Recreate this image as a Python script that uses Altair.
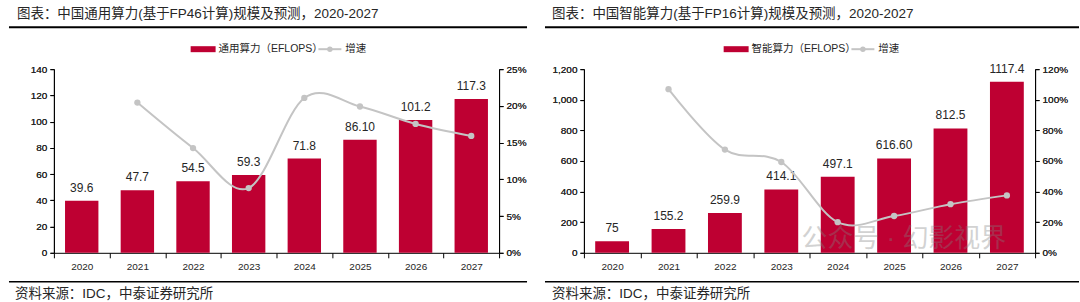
import altair as alt
import pandas as pd

# ---- data -------------------------------------------------------------
YEARS = ["2020", "2021", "2022", "2023", "2024", "2025", "2026", "2027"]

GENERAL_EFLOPS = [39.6, 47.7, 54.5, 59.3, 71.8, 86.10, 101.2, 117.3]
GENERAL_LABELS = ["39.6", "47.7", "54.5", "59.3", "71.8", "86.10", "101.2", "117.3"]
GENERAL_GROWTH = [None, 0.2045, 0.1426, 0.0881, 0.2108, 0.1992, 0.1754, 0.1591]

AI_EFLOPS = [75, 155.2, 259.9, 414.1, 497.1, 616.60, 812.5, 1117.4]
AI_LABELS = ["75", "155.2", "259.9", "414.1", "497.1", "616.60", "812.5", "1117.4"]
AI_GROWTH = [None, 1.0693, 0.6746, 0.5933, 0.2004, 0.2404, 0.3177, 0.3752]

GENERAL_TICKS = [0, 20, 40, 60, 80, 100, 120, 140]
GENERAL_PCT_TICKS = [0, 0.05, 0.10, 0.15, 0.20, 0.25]
AI_TICKS = [0, 200, 400, 600, 800, 1000, 1200]
AI_PCT_TICKS = [0, 0.2, 0.4, 0.6, 0.8, 1.0, 1.2]

# ---- style ------------------------------------------------------------
RED = "#BE0032"
GREY = "#C4C4C4"
INK = "#262626"
FONT = "Liberation Sans, Noto Sans CJK SC, sans-serif"
PLOT_H = 184


def one():
    return alt.Chart(alt.Data(values=[{}]))


def panel(values, labels, growth, left_ticks, left_fmt, pct_ticks, width,
          title, series_name, legend_x, title_x, source_x, rule_left, rule_right,
          watermark=False):
    df = pd.DataFrame({"year": YEARS, "value": values, "label": labels, "growth": growth})

    x = alt.X(
        "year:N", title=None, sort=YEARS,
        scale=alt.Scale(paddingInner=0, paddingOuter=0),
        axis=alt.Axis(labelAngle=0, tickBand="extent", tickSize=5, labelPadding=4,
                      domainColor="black", tickColor="black", labelFontSize=10),
    )
    y_left = alt.Y(
        "value:Q", title=None,
        scale=alt.Scale(domain=[left_ticks[0], left_ticks[-1]], nice=False),
        axis=alt.Axis(orient="left", values=left_ticks, format=left_fmt, grid=False,
                      tickSize=4, labelPadding=3, domainColor="black", tickColor="black"),
    )
    y_right = alt.Y(
        "growth:Q", title=None,
        scale=alt.Scale(domain=[pct_ticks[0], pct_ticks[-1]], nice=False),
        axis=alt.Axis(orient="right", values=pct_ticks, format=".0%", grid=False,
                      tickSize=4, labelPadding=3, domainColor="black", tickColor="black"),
    )

    bars = alt.Chart(df).mark_bar(color=RED, width=alt.RelativeBandSize(0.6)).encode(x=x, y=y_left)
    values_text = alt.Chart(df).mark_text(
        baseline="bottom", dy=-6, font=FONT, fontSize=12, color=INK
    ).encode(x=x, y=y_left, text="label:N")

    growth_df = df.dropna(subset=["growth"])
    line = alt.Chart(growth_df).mark_line(
        color=GREY, strokeWidth=2, interpolate="cardinal"
    ).encode(x=x, y=y_right)
    dots = alt.Chart(growth_df).mark_point(
        filled=True, color=GREY, size=40, opacity=1
    ).encode(x=x, y=y_right)

    # heading, separators, legend and source line
    head = one().mark_text(
        align="left", baseline="top", font=FONT, fontSize=13.5, color=INK
    ).encode(x=alt.value(title_x), y=alt.value(-62), text=alt.value(title))
    top_rule = one().mark_rule(color="black", strokeWidth=2).encode(
        x=alt.value(rule_left), x2=alt.value(width + rule_right), y=alt.value(-42))
    bottom_rule = one().mark_rule(color="black", strokeWidth=1.5).encode(
        x=alt.value(rule_left), x2=alt.value(width + rule_right), y=alt.value(213))
    source = one().mark_text(
        align="left", baseline="middle", font=FONT, fontSize=13.5, color=INK
    ).encode(x=alt.value(source_x), y=alt.value(225), text=alt.value("资料来源：IDC，中泰证券研究所"))

    ly = -20
    leg_rect = one().mark_rect(color=RED).encode(
        x=alt.value(legend_x), x2=alt.value(legend_x + 25),
        y=alt.value(ly - 3), y2=alt.value(ly + 3))
    leg_text = one().mark_text(
        align="left", baseline="middle", font=FONT, fontSize=10.5, color=INK
    ).encode(x=alt.value(legend_x + 28), y=alt.value(ly), text=alt.value(series_name))
    lx2 = legend_x + 128
    leg_line = one().mark_rule(color=GREY, strokeWidth=2).encode(
        x=alt.value(lx2), x2=alt.value(lx2 + 23), y=alt.value(ly))
    leg_dot = one().mark_point(filled=True, color=GREY, size=30, opacity=1).encode(
        x=alt.value(lx2 + 11.5), y=alt.value(ly))
    leg_text2 = one().mark_text(
        align="left", baseline="middle", font=FONT, fontSize=10.5, color=INK
    ).encode(x=alt.value(lx2 + 27), y=alt.value(ly), text=alt.value("增速"))

    layers = [bars, values_text, line, dots, head, top_rule, bottom_rule, source,
              leg_rect, leg_text, leg_line, leg_dot, leg_text2]
    if watermark:
        layers.append(one().mark_text(
            align="left", baseline="middle", font=FONT, fontSize=26,
            color="#808080", opacity=0.35
        ).encode(x=alt.value(218), y=alt.value(170), text=alt.value("公众号 · 幻影视界")))

    return alt.layer(*layers).resolve_scale(y="independent").properties(
        width=width, height=PLOT_H)


left = panel(
    GENERAL_EFLOPS, GENERAL_LABELS, GENERAL_GROWTH, GENERAL_TICKS, "d",
    GENERAL_PCT_TICKS, 446,
    "图表：中国通用算力(基于FP46计算)规模及预测，2020-2027",
    "通用算力（EFLOPS）", legend_x=137, title_x=-37, source_x=-39,
    rule_left=-45, rule_right=28,
)
right = panel(
    AI_EFLOPS, AI_LABELS, AI_GROWTH, AI_TICKS, ",d",
    AI_PCT_TICKS, 452,
    "图表：中国智能算力(基于FP16计算)规模及预测，2020-2027",
    "智能算力（EFLOPS）", legend_x=140, title_x=-32, source_x=-32,
    rule_left=-39, rule_right=44, watermark=True,
)

chart = alt.hconcat(left, right, spacing=16).properties(
    padding={"left": 8, "top": 7, "right": 0, "bottom": 0},
    background="white",
).configure_view(strokeWidth=0).configure_axis(
    labelFont=FONT, labelFontSize=10, labelColor=INK,
)

chart.save("out.html", embed_options={"renderer": "svg", "actions": False})
